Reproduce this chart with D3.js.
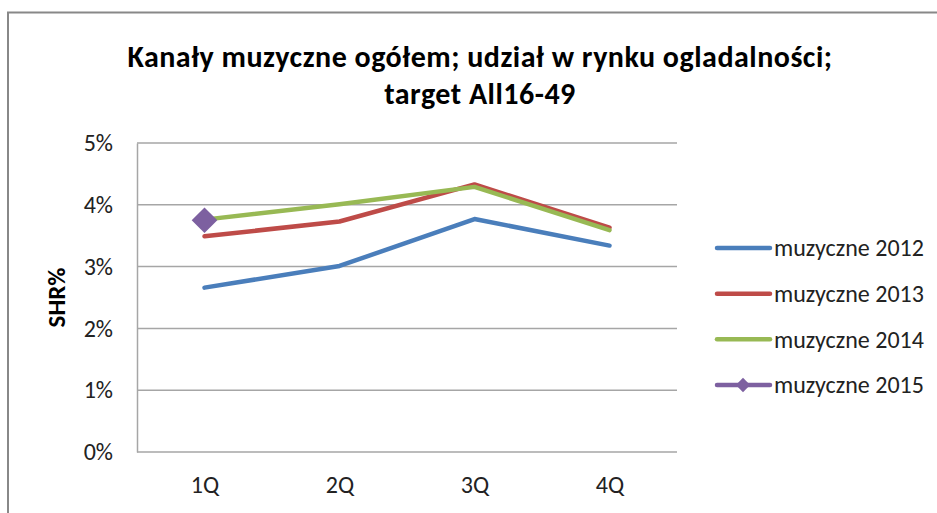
<!DOCTYPE html>
<html>
<head>
<meta charset="utf-8">
<script src="https://cdn.jsdelivr.net/npm/d3@7"></script>
<style>
  body { margin: 0; background: #fff; }
  svg { display: block; font-family: Carlito, Calibri, Lato, "Liberation Sans", sans-serif; }
</style>
</head>
<body>
<div id="chart"></div>
<script>
// Chart data
const quarters = ['1Q', '2Q', '3Q', '4Q'];
const muzyczne2012 = [0.0266, 0.0301, 0.0377, 0.0334];
const muzyczne2013 = [0.0349, 0.0373, 0.0433, 0.0363];
const muzyczne2014 = [0.0376, 0.0401, 0.0429, 0.0359];
const muzyczne2015 = [0.0375];
const yTicks = [0, 0.01, 0.02, 0.03, 0.04, 0.05];
const seriesNames = ['muzyczne 2012', 'muzyczne 2013', 'muzyczne 2014', 'muzyczne 2015'];
const seriesColors = ['#4a7ebb', '#be4b48', '#98b954', '#7d60a0'];

const series = [muzyczne2012, muzyczne2013, muzyczne2014, muzyczne2015].map((values, i) => ({
    name: seriesNames[i],
    color: seriesColors[i],
    marker: i === 3,
    values: values
}));

const width = 937;
const height = 513;
const plot = { left: 137, right: 677, top: 143, bottom: 452 };
const fontStack = 'Carlito, Calibri, Lato, "Liberation Sans", sans-serif';

const svg = d3.select('#chart').append('svg')
    .attr('width', width)
    .attr('height', height);

// outer frame (only top and left edges are visible in the crop)
svg.append('path')
    .attr('d', `M8,${height} V12.5 H${width}`)
    .attr('fill', 'none')
    .attr('stroke', '#888')
    .attr('stroke-width', 2);

// title
const title = svg.append('text')
    .attr('text-anchor', 'middle')
    .attr('font-weight', 'bold')
    .attr('font-size', 30)
    .attr('letter-spacing', 0.5)
    .attr('fill', '#000');
title.append('tspan').attr('x', 480).attr('y', 67).text('Kanały muzyczne ogółem; udział w rynku ogladalności;');
title.append('tspan').attr('x', 480).attr('y', 104).text('target All16-49');

const x = d3.scalePoint()
    .domain(quarters)
    .range([plot.left, plot.right])
    .padding(0.5);

const y = d3.scaleLinear()
    .domain([0, 0.05])
    .range([plot.bottom, plot.top]);

// gridlines
svg.append('g')
    .selectAll('line')
    .data(yTicks)
    .enter().append('line')
    .attr('x1', plot.left)
    .attr('x2', plot.right)
    .attr('y1', d => y(d))
    .attr('y2', d => y(d))
    .attr('stroke', '#a6a6a6')
    .attr('stroke-width', 1.5);

// y axis
const yAxis = svg.append('g')
    .attr('transform', `translate(${plot.left},0)`)
    .call(d3.axisLeft(y).tickValues(yTicks).tickFormat(d3.format('.0%')).tickSize(0).tickPadding(24))
    .attr('font-family', fontStack)
    .attr('font-size', 24);
yAxis.select('.domain').attr('stroke', '#a6a6a6').attr('stroke-width', 1.5);
yAxis.selectAll('text').attr('fill', '#222');

// x axis labels
const xAxis = svg.append('g')
    .attr('transform', `translate(0,${plot.bottom})`)
    .call(d3.axisBottom(x).tickSize(0).tickPadding(24))
    .attr('font-family', fontStack)
    .attr('font-size', 24);
xAxis.select('.domain').remove();
xAxis.selectAll('text').attr('fill', '#222');

// y axis title
svg.append('text')
    .attr('transform', `translate(65,${(plot.top + plot.bottom) / 2}) rotate(-90)`)
    .attr('text-anchor', 'middle')
    .attr('font-weight', 'bold')
    .attr('font-size', 25)
    .text('SHR%');

// lines
const line = d3.line()
    .x((d, i) => x(quarters[i]))
    .y(d => y(d));

const seriesG = svg.append('g');
series.forEach(s => {
    if (s.values.length > 1) {
        seriesG.append('path')
            .datum(s.values)
            .attr('d', line)
            .attr('fill', 'none')
            .attr('stroke', s.color)
            .attr('stroke-width', 4.5)
            .attr('stroke-linejoin', 'round')
            .attr('stroke-linecap', 'round');
    }
    if (s.marker) {
        seriesG.selectAll(null)
            .data(s.values)
            .enter().append('path')
            .attr('d', d3.symbol(d3.symbolDiamond2, 420))
            .attr('transform', (d, i) => `translate(${x(quarters[i])},${y(d)})`)
            .attr('fill', s.color);
    }
});

// legend
const legend = svg.append('g');
const legendY = d3.scalePoint().domain(seriesNames).range([248, 385]);
series.forEach(s => {
    const g = legend.append('g').attr('transform', `translate(0,${legendY(s.name)})`);
    g.append('line')
        .attr('x1', 717)
        .attr('x2', 770)
        .attr('stroke', s.color)
        .attr('stroke-width', 4.5)
        .attr('stroke-linecap', 'round');
    if (s.marker) {
        g.append('path')
            .attr('d', d3.symbol(d3.symbolDiamond2, 130))
            .attr('transform', 'translate(743,0)')
            .attr('fill', s.color);
    }
    g.append('text')
        .attr('x', 774)
        .attr('dy', '0.35em')
        .attr('font-size', 24)
        .attr('fill', '#222')
        .text(s.name);
});
</script>
</body>
</html>
